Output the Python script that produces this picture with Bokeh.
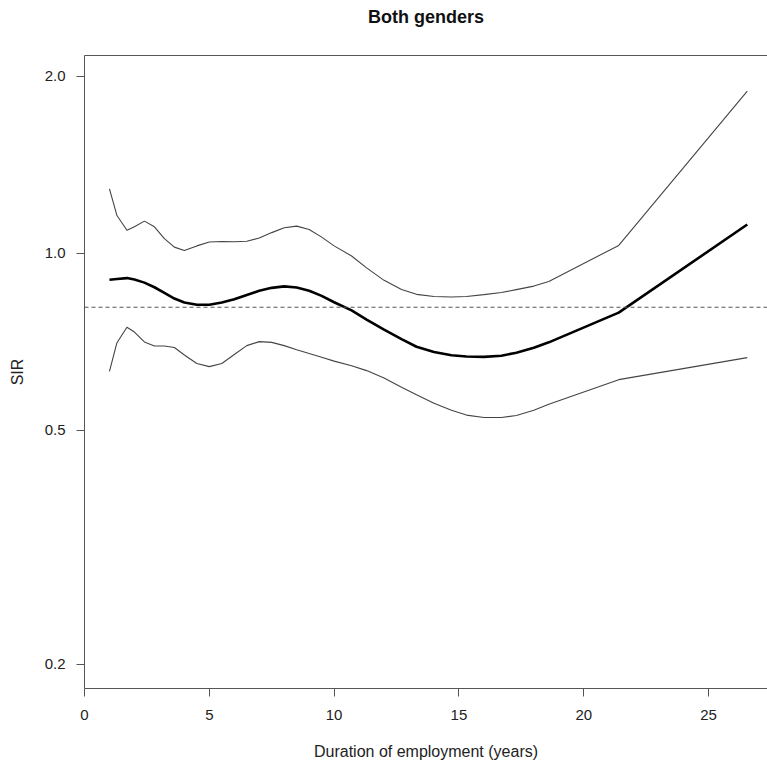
from bokeh.plotting import figure
from bokeh.models import Range1d, FixedTicker, NumeralTickFormatter, LinearAxis, Span
from bokeh.embed import file_html
from bokeh.resources import INLINE

# ---- data ----
duration = [1.0, 1.3, 1.7, 2.0, 2.4, 2.8, 3.2, 3.6, 4.0, 4.5, 5.0, 5.5, 6.0, 6.5,
            7.0, 7.5, 8.0, 8.5, 9.0, 9.5, 10.0, 10.7, 11.3, 12.0, 12.7, 13.3,
            14.0, 14.7, 15.3, 16.0, 16.7, 17.3, 18.0, 18.6, 21.4, 26.55]

sir = [0.902, 0.905, 0.908, 0.903, 0.892, 0.876, 0.857, 0.838, 0.825, 0.818,
       0.818, 0.825, 0.836, 0.850, 0.864, 0.874, 0.879, 0.875, 0.864, 0.847,
       0.826, 0.800, 0.772, 0.742, 0.715, 0.694, 0.680, 0.671, 0.668, 0.667,
       0.670, 0.678, 0.691, 0.706, 0.793, 1.120]

sir_upper = [1.288, 1.160, 1.095, 1.110, 1.135, 1.110, 1.060, 1.025, 1.012, 1.030,
             1.046, 1.048, 1.047, 1.049, 1.062, 1.085, 1.106, 1.113, 1.098, 1.066,
             1.030, 0.990, 0.945, 0.900, 0.868, 0.852, 0.845, 0.843, 0.845, 0.851,
             0.858, 0.868, 0.880, 0.896, 1.032, 1.888]

sir_lower = [0.630, 0.705, 0.749, 0.735, 0.707, 0.696, 0.696, 0.692, 0.672, 0.650,
             0.642, 0.650, 0.673, 0.697, 0.708, 0.706, 0.697, 0.686, 0.676, 0.666,
             0.656, 0.644, 0.632, 0.614, 0.592, 0.575, 0.556, 0.541, 0.531, 0.526,
             0.526, 0.530, 0.541, 0.554, 0.610, 0.665]

reference_sir = 0.81

x_ticks = [0, 5, 10, 15, 20, 25]
y_ticks = [0.2, 0.5, 1.0, 2.0]

title_text = "Both genders"
x_label = "Duration of employment (years)"
y_label = "SIR"

FONT = "Liberation Sans"
AXIS_COLOR = "#555555"
TEXT_COLOR = "#222222"

p = figure(width=767, height=765, y_axis_type="log",
           x_range=Range1d(0, 27.36), y_range=Range1d(0.182, 2.171),
           output_backend="svg", toolbar_location=None,
           min_border_left=84, min_border_right=0,
           min_border_top=55, min_border_bottom=77)

p.background_fill_color = "white"
p.border_fill_color = "white"
p.outline_line_color = None
p.xgrid.grid_line_color = None
p.ygrid.grid_line_color = None

p.title.text = title_text
p.title.align = "center"
p.title.offset = 0
p.title.text_font = FONT
p.title.text_font_size = "18px"
p.title.text_font_style = "bold"
p.title.text_color = "#111111"
p.title.standoff = 8

xax = p.below[0]
yax = p.left[0]

for ax in (xax, yax):
    ax.axis_line_color = AXIS_COLOR
    ax.axis_line_width = 1
    ax.major_tick_line_color = AXIS_COLOR
    ax.major_tick_out = 8
    ax.major_tick_in = 0
    ax.minor_tick_line_color = None
    ax.major_label_text_font = FONT
    ax.major_label_text_font_size = "15px"
    ax.major_label_text_color = TEXT_COLOR
    ax.axis_label_text_font = FONT
    ax.axis_label_text_font_size = "16px"
    ax.axis_label_text_font_style = "normal"
    ax.axis_label_text_color = TEXT_COLOR

xax.ticker = FixedTicker(ticks=x_ticks, minor_ticks=[])
xax.axis_label = x_label
xax.major_label_standoff = 13
xax.axis_label_standoff = 20

yax.ticker = FixedTicker(ticks=y_ticks, minor_ticks=[])
yax.formatter = NumeralTickFormatter(format="0.0")
yax.axis_label = y_label
yax.major_label_standoff = 11
yax.axis_label_standoff = 16

# top border as an empty axis (no right border visible in reference);
# a blank axis label pads the space between frame and title
top = LinearAxis(ticker=FixedTicker(ticks=[], minor_ticks=[]), major_tick_out=0, major_tick_in=0,
                 minor_tick_out=0, minor_tick_in=0, major_label_standoff=0,
                 major_tick_line_color=None, minor_tick_line_color=None,
                 major_label_text_font_size="0px",
                 axis_label=" ", axis_label_text_font=FONT,
                 axis_label_text_font_size="10px", axis_label_standoff=11,
                 axis_line_color=AXIS_COLOR, axis_line_width=1)
p.add_layout(top, "above")

p.add_layout(Span(location=reference_sir, dimension="width",
                  line_color="#555555", line_width=1.2, line_dash="4 3"))

p.line(duration, sir_upper, line_color="#444444", line_width=1.1)
p.line(duration, sir_lower, line_color="#444444", line_width=1.1)
p.line(duration, sir, line_color="#000000", line_width=2.6)

open("out.html", "w").write(file_html(p, INLINE))
